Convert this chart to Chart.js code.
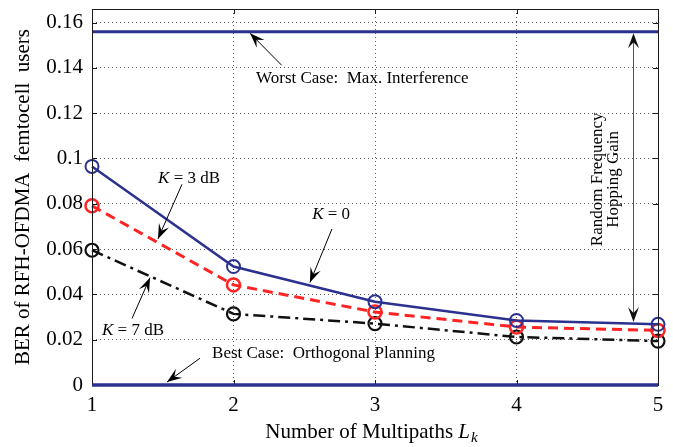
<!DOCTYPE html>
<html>
<head>
<meta charset="utf-8">
<script src="https://cdn.jsdelivr.net/npm/chart.js@4.4.0/dist/chart.umd.min.js"></script>
<style>
  html, body { margin: 0; padding: 0; background: #fff; }
</style>
</head>
<body>
<canvas id="c" width="673" height="447"></canvas>
<script>
// number of multipaths on the x axis
const multipaths = [1, 2, 3, 4, 5];
// BER curves
const berK0 = [0.0965, 0.0523, 0.0368, 0.0285, 0.0268];
const berK3 = [0.0791, 0.0442, 0.0322, 0.0256, 0.0241];
const berK7 = [0.0595, 0.0314, 0.0271, 0.0212, 0.0194];
// bounds
const worstCase = [0.156, 0.156, 0.156, 0.156, 0.156];
const bestCase = [0, 0, 0, 0, 0];
// ticks
const xTicks = [1, 2, 3, 4, 5];
const yTicks = [0, 0.02, 0.04, 0.06, 0.08, 0.1, 0.12, 0.14, 0.16];
const yTickLabels = ['0', '0.02', '0.04', '0.06', '0.08', '0.1', '0.12', '0.14', '0.16'];

const BLUE = '#2b318f';
const RED = '#ff2424';
const SERIF = '"Liberation Serif", "DejaVu Serif", serif';

// annotation texts and arrows, in data units
const notes = [
    { parts: [['Worst Case:  Max. Interference', '']], x: 2.91, y: 0.1351 },
    { parts: [['Best Case:  Orthogonal Planning', '']], x: 2.636, y: 0.0140 },
    { parts: [['K', 'italic '], [' = 3 dB', '']], x: 1.686, y: 0.0910 },
    { parts: [['K', 'italic '], [' = 0', '']], x: 2.69, y: 0.0754 },
    { parts: [['K', 'italic '], [' = 7 dB', '']], x: 1.29, y: 0.0241 },
];
const arrows = [
    { from: [2.34, 0.1412], to: [2.117, 0.1553] },
    { from: [1.763, 0.0118], to: [1.53, 0.0013] },
    { from: [1.636, 0.0886], to: [1.466, 0.0645] },
    { from: [2.696, 0.0689], to: [2.54, 0.0452] },
    { from: [1.283, 0.0294], to: [1.41, 0.0474] },
];
const gainArrow = { x: 4.82, top: 0.1553, bottom: 0.0278 };
const gainText = [
    { text: 'Random Frequency', x: 4.576, y: 0.0908 },
    { text: 'Hopping Gain', x: 4.689, y: 0.0908 },
];

const toPoints = (ys) => multipaths.map((x, i) => ({ x: x, y: ys[i] }));

function arrowHead(ctx, x1, y1, x2, y2) {
    const ang = Math.atan2(y2 - y1, x2 - x1);
    ctx.save();
    ctx.translate(x2, y2);
    ctx.rotate(ang);
    ctx.beginPath();
    ctx.moveTo(0, 0);
    ctx.lineTo(-15, -5.5);
    ctx.lineTo(-9, 0);
    ctx.lineTo(-15, 5.5);
    ctx.closePath();
    ctx.fill();
    ctx.restore();
}

// draw a text made of roman/italic parts, centred on (cx, cy)
function richText(ctx, parts, cx, cy, size) {
    let widths = parts.map(p => {
        ctx.font = p[1] + size + 'px ' + SERIF;
        return ctx.measureText(p[0]).width;
    });
    let total = widths.reduce((a, b) => a + b, 0);
    let x = cx - total / 2;
    ctx.textAlign = 'left';
    ctx.textBaseline = 'middle';
    parts.forEach((p, i) => {
        ctx.font = p[1] + size + 'px ' + SERIF;
        ctx.fillText(p[0], x, cy);
        x += widths[i];
    });
}

const extras = {
    id: 'extras',
    afterDraw(chart) {
        const ctx = chart.ctx;
        const xs = chart.scales.x, ys = chart.scales.y;
        const a = chart.chartArea;
        ctx.save();

        // box and inward ticks
        ctx.strokeStyle = '#1a1a1a';
        ctx.lineWidth = 1;
        ctx.strokeRect(a.left + 0.5, a.top + 0.5, a.right - a.left, a.bottom - a.top);
        ctx.beginPath();
        xTicks.forEach(v => {
            const px = Math.round(xs.getPixelForValue(v)) + 0.5;
            ctx.moveTo(px, a.bottom); ctx.lineTo(px, a.bottom - 5);
            ctx.moveTo(px, a.top); ctx.lineTo(px, a.top + 5);
        });
        yTicks.forEach(v => {
            const py = Math.round(ys.getPixelForValue(v)) + 0.5;
            ctx.moveTo(a.left, py); ctx.lineTo(a.left + 5, py);
            ctx.moveTo(a.right, py); ctx.lineTo(a.right - 5, py);
        });
        ctx.stroke();

        // redraw the best case line over the box
        ctx.strokeStyle = BLUE;
        ctx.lineWidth = 3;
        ctx.beginPath();
        ctx.moveTo(a.left, ys.getPixelForValue(bestCase[0]));
        ctx.lineTo(a.right, ys.getPixelForValue(bestCase[bestCase.length - 1]));
        ctx.stroke();

        // arrows
        ctx.fillStyle = '#000';
        ctx.strokeStyle = '#000';
        ctx.lineWidth = 1;
        arrows.forEach(ar => {
            const x1 = xs.getPixelForValue(ar.from[0]), y1 = ys.getPixelForValue(ar.from[1]);
            const x2 = xs.getPixelForValue(ar.to[0]), y2 = ys.getPixelForValue(ar.to[1]);
            ctx.beginPath();
            ctx.moveTo(x1, y1);
            ctx.lineTo(x2, y2);
            ctx.stroke();
            arrowHead(ctx, x1, y1, x2, y2);
        });

        // double arrow for the hopping gain
        const gx = Math.round(xs.getPixelForValue(gainArrow.x)) + 0.5;
        const gt = ys.getPixelForValue(gainArrow.top), gb = ys.getPixelForValue(gainArrow.bottom);
        ctx.strokeStyle = '#555';
        ctx.beginPath();
        ctx.moveTo(gx, gt + 6);
        ctx.lineTo(gx, gb - 6);
        ctx.stroke();
        ctx.fillStyle = '#111';
        arrowHead(ctx, gx, gb, gx, gt);
        arrowHead(ctx, gx, gt, gx, gb);

        // texts
        ctx.fillStyle = '#000';
        notes.forEach(n => {
            richText(ctx, n.parts, xs.getPixelForValue(n.x), ys.getPixelForValue(n.y), 17);
        });
        gainText.forEach(t => {
            ctx.save();
            ctx.translate(xs.getPixelForValue(t.x), ys.getPixelForValue(t.y));
            ctx.rotate(-Math.PI / 2);
            ctx.font = '17px ' + SERIF;
            ctx.textAlign = 'center';
            ctx.textBaseline = 'middle';
            ctx.fillText(t.text, 0, 0);
            ctx.restore();
        });

        // x axis title with italic L_k
        const cx = (a.left + a.right) / 2 - 4, by = 438;
        ctx.textBaseline = 'alphabetic';
        ctx.textAlign = 'left';
        ctx.font = '21px ' + SERIF;
        const w1 = ctx.measureText('Number of Multipaths ').width;
        ctx.font = 'italic 21px ' + SERIF;
        const w2 = ctx.measureText('L').width;
        ctx.font = 'italic 15px ' + SERIF;
        const w3 = ctx.measureText('k').width;
        let x0 = cx - (w1 + w2 + w3) / 2;
        ctx.font = '21px ' + SERIF;
        ctx.fillText('Number of Multipaths ', x0, by);
        ctx.font = 'italic 21px ' + SERIF;
        ctx.fillText('L', x0 + w1, by);
        ctx.font = 'italic 15px ' + SERIF;
        ctx.fillText('k', x0 + w1 + w2 + 1, by + 4);

        ctx.restore();
    }
};

new Chart(document.getElementById('c'), {
    type: 'line',
    data: {
        datasets: [
            {
                label: 'K = 0',
                data: toPoints(berK0),
                borderColor: BLUE,
                borderWidth: 2.5,
                pointRadius: 6.5,
                pointBorderWidth: 2,
                pointBorderColor: BLUE,
                pointBackgroundColor: 'rgba(0,0,0,0)',
            },
            {
                label: 'K = 3 dB',
                data: toPoints(berK3),
                borderColor: RED,
                borderWidth: 3,
                borderDash: [10, 6],
                pointRadius: 6.5,
                pointBorderWidth: 2.5,
                pointBorderColor: RED,
                pointBackgroundColor: 'rgba(0,0,0,0)',
            },
            {
                label: 'K = 7 dB',
                data: toPoints(berK7),
                borderColor: '#111',
                borderWidth: 2.5,
                borderDash: [12, 5, 3, 5],
                pointRadius: 6.5,
                pointBorderWidth: 2.2,
                pointBorderColor: '#111',
                pointBackgroundColor: 'rgba(0,0,0,0)',
            },
            {
                label: 'Worst case',
                data: toPoints(worstCase),
                borderColor: BLUE,
                borderWidth: 3,
                pointRadius: 0,
            },
            {
                label: 'Best case',
                data: toPoints(bestCase),
                borderColor: BLUE,
                borderWidth: 3,
                pointRadius: 0,
            },
        ]
    },
    options: {
        responsive: false,
        animation: false,
        clip: false,
        layout: { padding: { top: 7, right: 15, left: 0, bottom: 0 } },
        plugins: {
            legend: { display: false },
            tooltip: { enabled: false },
        },
        scales: {
            x: {
                type: 'linear',
                min: 1,
                max: 5,
                afterBuildTicks: (s) => { s.ticks = xTicks.map(v => ({ value: v })); },
                afterFit: (s) => { s.height = 62; s.paddingLeft = 0; s.paddingRight = 0; },
                ticks: {
                    color: '#000',
                    font: { family: SERIF, size: 21 },
                    padding: 8,
                    maxRotation: 0,
                },
                grid: { color: 'rgba(0,0,0,0.65)', drawTicks: false, lineWidth: 1 },
                border: { display: false, dash: [1, 3] },
            },
            y: {
                min: 0,
                max: 0.166,
                afterBuildTicks: (s) => { s.ticks = yTicks.map(v => ({ value: v })); },
                afterFit: (s) => { s.width = 92; s.paddingTop = 0; s.paddingBottom = 0; },
                ticks: {
                    color: '#000',
                    font: { family: SERIF, size: 21 },
                    padding: 9,
                    callback: (v, i) => yTickLabels[i],
                },
                grid: { color: 'rgba(0,0,0,0.65)', drawTicks: false, lineWidth: 1 },
                border: { display: false, dash: [1, 3] },
                title: {
                    display: true,
                    text: 'BER of RFH-OFDMA  femtocell  users',
                    color: '#000',
                    font: { family: SERIF, size: 21 },
                    padding: { top: 11, bottom: 0 },
                },
            },
        },
    },
    plugins: [extras],
});
</script>
</body>
</html>
